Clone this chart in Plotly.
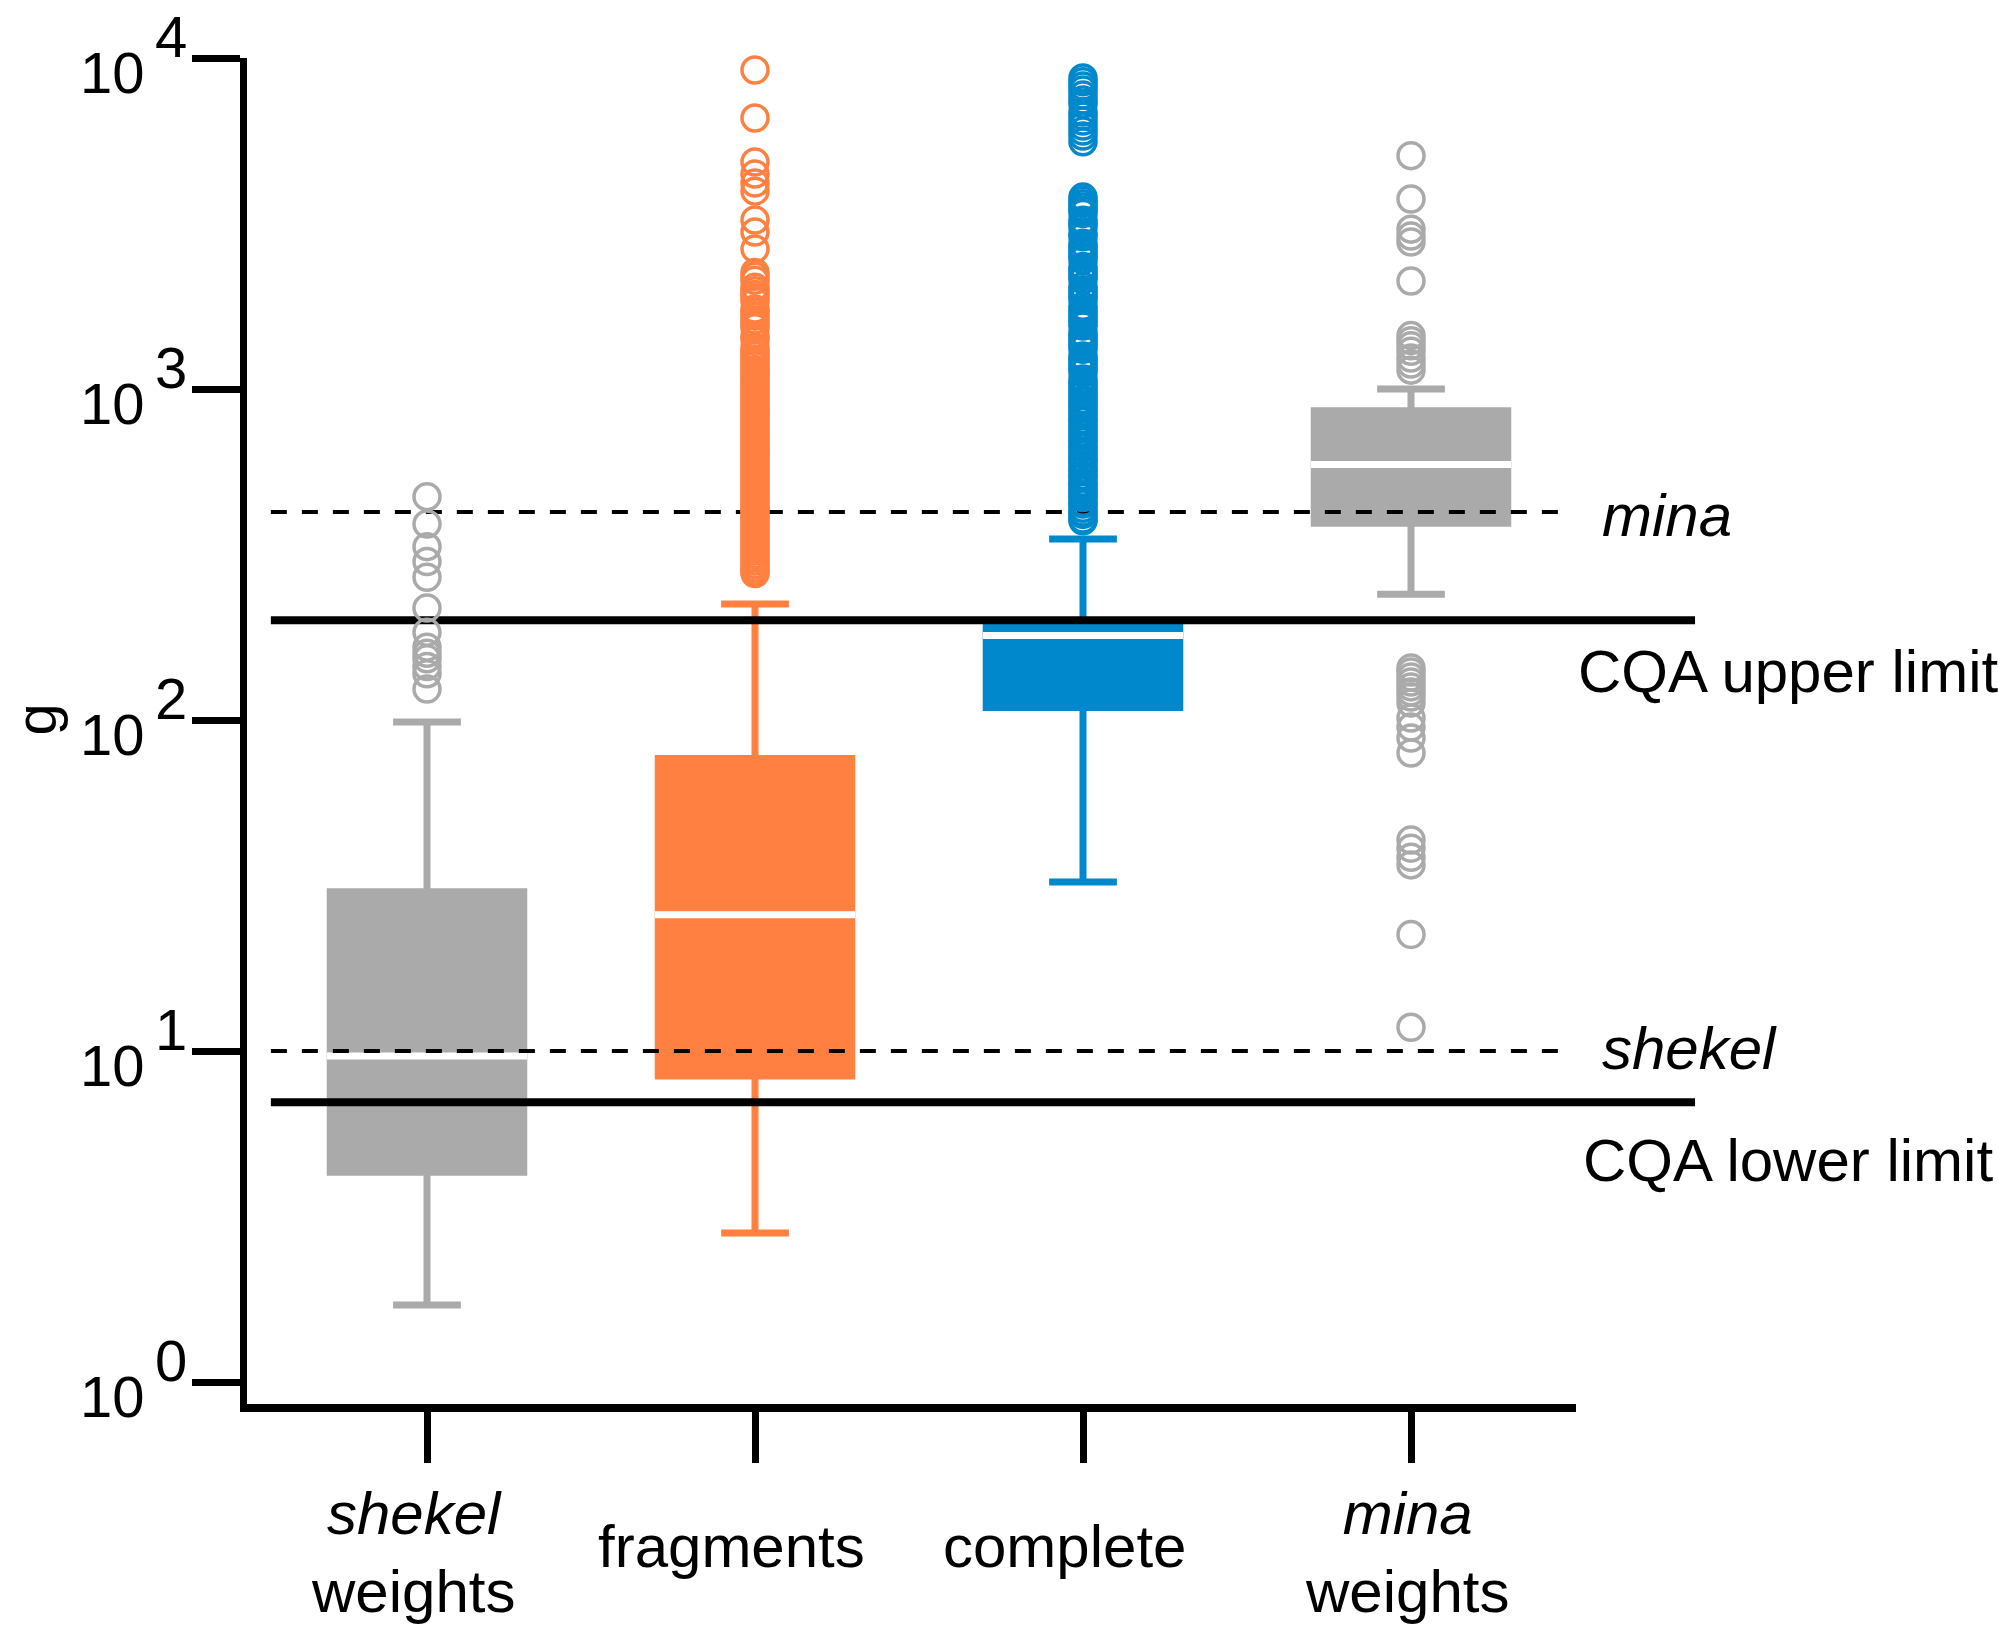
import math
import plotly.graph_objects as go

# ---------------- data ----------------
categories = ["shekel weights", "fragments", "complete", "mina weights"]
tick_labels = ["<i>shekel</i><br>weights", "fragments", "complete", "<i>mina</i><br>weights"]
colors = ["#AAAAAA", "#FF8040", "#0088CC", "#AAAAAA"]

q1 = [4.3, 8.4, 109, 393]
median = [9.66, 25.8, 180, 591]
q3 = [30.3, 76.5, 197, 860]
lowerfence = [1.71, 2.82, 32.4, 240]
upperfence = [98.6, 224, 352, 1000]

shekel_outliers = [473, 391, 334, 301, 270, 218, 184, 166, 159, 153, 145, 138, 124]

fragments_outliers = [
    9200, 6590, 4850, 4460, 4190, 3960, 3240, 2980, 2650,
    2250, 2190, 2130, 2030, 1980, 1930, 1885, 1840, 1745, 1705, 1660, 1615, 1570, 1530,
    1445, 1405, 1330, 1295, 1262,
    1232, 1200, 1176, 1146, 1121, 1098, 1070, 1048, 1022, 1001, 978, 954, 933, 911, 892,
    870, 852, 830, 813, 793, 776, 757, 741, 723, 707, 692, 676, 660, 646, 632, 617, 603,
    590, 576, 562, 550, 537, 525, 512, 501, 490, 478, 468, 457, 447, 437, 427, 417, 407,
    398, 389, 380, 372, 363, 355, 347, 339, 331, 324, 316, 309, 302, 295, 288, 282, 277,
]

complete_outliers = [
    8700, 8470, 8230, 8000, 7730, 7470, 7260, 6870, 6680, 6450, 6230, 6020, 5810, 5580,
    3800, 3715, 3630, 3548, 3467, 3388, 3236, 3162, 3090, 2951, 2884, 2754, 2692, 2630,
    2570, 2512, 2455, 2344, 2291, 2239, 2188, 2138, 2042, 1995, 1950, 1905, 1862, 1778,
    1738, 1698, 1660, 1622, 1585, 1549, 1479, 1445, 1413, 1380, 1349, 1318, 1259, 1230,
    1202, 1175, 1148, 1122, 1072, 1047,
    1025, 1000, 975, 958, 930, 915, 890, 873, 850, 835, 810, 797, 775, 760, 740, 726, 705,
    695, 675, 663, 645, 633, 615, 605, 590, 573, 565, 548, 540, 523, 515, 500, 492, 478,
    470, 455, 449, 436, 425, 418, 405, 400,
]

mina_outliers = [
    5070, 3750, 3040, 2900, 2780, 2120, 1450, 1400, 1350, 1300, 1240, 1190, 1140,
    143.6, 139.6, 134.8, 130.2, 125.9, 121.6, 117.3, 112.5, 101.4, 95.2, 88.2, 79.5,
    43.4, 41.0, 38.5, 36.5, 22.5, 11.8,
]

outliers = [shekel_outliers, fragments_outliers, complete_outliers, mina_outliers]

MINA_G = 425
SHEKEL_G = 10
CQA_UPPER_G = 200
CQA_LOWER_G = 7.0

y_tickvals = [1, 10, 100, 1000, 10000]
y_exponents = ["0", "1", "2", "3", "4"]

# ---------------- style ----------------
FONT = "Liberation Sans, Arial, Helvetica, sans-serif"
FS_TICK = 58
FS = 60
BOX_W = 0.59
LINE_X0 = -0.476
DASH_X1 = 3.491
SOLID_X1 = 3.866
label_xshift = [-14, -24, -19, -4]
label_yshift = [-144, -138, -138, -144]

fig = go.Figure()

# boxes
for i, cat in enumerate(categories):
    fig.add_trace(go.Box(
        x=[i], q1=[q1[i]], median=[median[i]], q3=[q3[i]],
        lowerfence=[lowerfence[i]], upperfence=[upperfence[i]],
        name=cat, width=BOX_W, whiskerwidth=0.35,
        fillcolor=colors[i], line=dict(color=colors[i], width=7),
        boxpoints=False, showlegend=False, hoverinfo="skip",
    ))

# white median lines
half = BOX_W / 2 + 0.01
for i in range(len(categories)):
    fig.add_trace(go.Scatter(
        x=[i - half, i + half], y=[median[i], median[i]], mode="lines",
        line=dict(color="white", width=7), showlegend=False, hoverinfo="skip",
    ))

# reference lines
for val, dash, x1, w in [
    (MINA_G, "16px,15px", DASH_X1, 4),
    (SHEKEL_G, "16px,15px", DASH_X1, 4),
    (CQA_UPPER_G, "solid", SOLID_X1, 8),
    (CQA_LOWER_G, "solid", SOLID_X1, 8),
]:
    fig.add_trace(go.Scatter(
        x=[LINE_X0, x1], y=[val, val], mode="lines",
        line=dict(color="black", width=w, dash=dash),
        showlegend=False, hoverinfo="skip",
    ))

# outliers
for i, vals in enumerate(outliers):
    fig.add_trace(go.Scatter(
        x=[i] * len(vals), y=vals, mode="markers",
        marker=dict(symbol="circle-open", size=26, color=colors[i], line=dict(width=3.5)),
        cliponaxis=False, showlegend=False, hoverinfo="skip",
    ))

annotations = []
# y tick labels 10^n
for v, e in zip(y_tickvals, y_exponents):
    annotations.append(dict(text="10", xref="paper", x=0, yref="y", y=math.log10(v),
                            xanchor="right", yanchor="middle", xshift=-100, yshift=-14,
                            showarrow=False, font=dict(size=FS_TICK, color="black", family=FONT)))
    annotations.append(dict(text=e, xref="paper", x=0, yref="y", y=math.log10(v),
                            xanchor="left", yanchor="middle", xshift=-94, yshift=22,
                            showarrow=False, font=dict(size=FS_TICK, color="black", family=FONT)))
# x category labels
for i, t in enumerate(tick_labels):
    annotations.append(dict(text=t, xref="x", x=i, yref="paper", y=0,
                            xanchor="center", yanchor="middle",
                            xshift=label_xshift[i], yshift=label_yshift[i],
                            showarrow=False, font=dict(size=FS, color="black", family=FONT)))
# y title
annotations.append(dict(text="g", xref="paper", x=0, xshift=-212, yref="paper", y=0.51,
                        textangle=-90, xanchor="center", yanchor="middle", showarrow=False,
                        font=dict(size=FS_TICK, color="black", family=FONT)))
# right-hand labels
PLOT_L, PLOT_R = 247, 1710
def px_to_paper(px):
    return (px - PLOT_L) / (PLOT_R - PLOT_L)

for text, val, xpx, ysh in [
    ("<i>mina</i>", MINA_G, 1600, -3),
    ("CQA upper limit", CQA_UPPER_G, 1576, -51),
    ("<i>shekel</i>", SHEKEL_G, 1600, 3),
    ("CQA lower limit", CQA_LOWER_G, 1581, -58),
]:
    annotations.append(dict(text=text, xref="paper", x=px_to_paper(xpx), yref="y",
                            y=math.log10(val), xanchor="left", yanchor="middle", yshift=ysh,
                            showarrow=False, font=dict(size=FS, color="black", family=FONT)))

shapes = [dict(type="line", xref="paper", yref="paper",
               x0=px_to_paper(240), x1=px_to_paper(1576), y0=0, y1=0,
               line=dict(color="black", width=8))]

fig.update_layout(
    width=1998, height=1632,
    margin=dict(l=PLOT_L, r=1998 - PLOT_R, t=58, b=224),
    paper_bgcolor="white", plot_bgcolor="white",
    font=dict(family=FONT, size=FS, color="black"),
    showlegend=False,
    annotations=annotations, shapes=shapes,
    xaxis=dict(range=[(PLOT_L - 427) / 328, (PLOT_R - 427) / 328], tickvals=[0, 1, 2, 3],
               ticks="outside", ticklen=54, tickwidth=7, tickcolor="black",
               showticklabels=False, showline=False, showgrid=False, zeroline=False),
    yaxis=dict(type="log", range=[-0.0785, 4.0], tickvals=y_tickvals,
               ticks="outside", ticklen=48, tickwidth=7, tickcolor="black",
               showticklabels=False, showline=True, linewidth=7, linecolor="black",
               showgrid=False, zeroline=False),
)

fig.write_html("out.html")
